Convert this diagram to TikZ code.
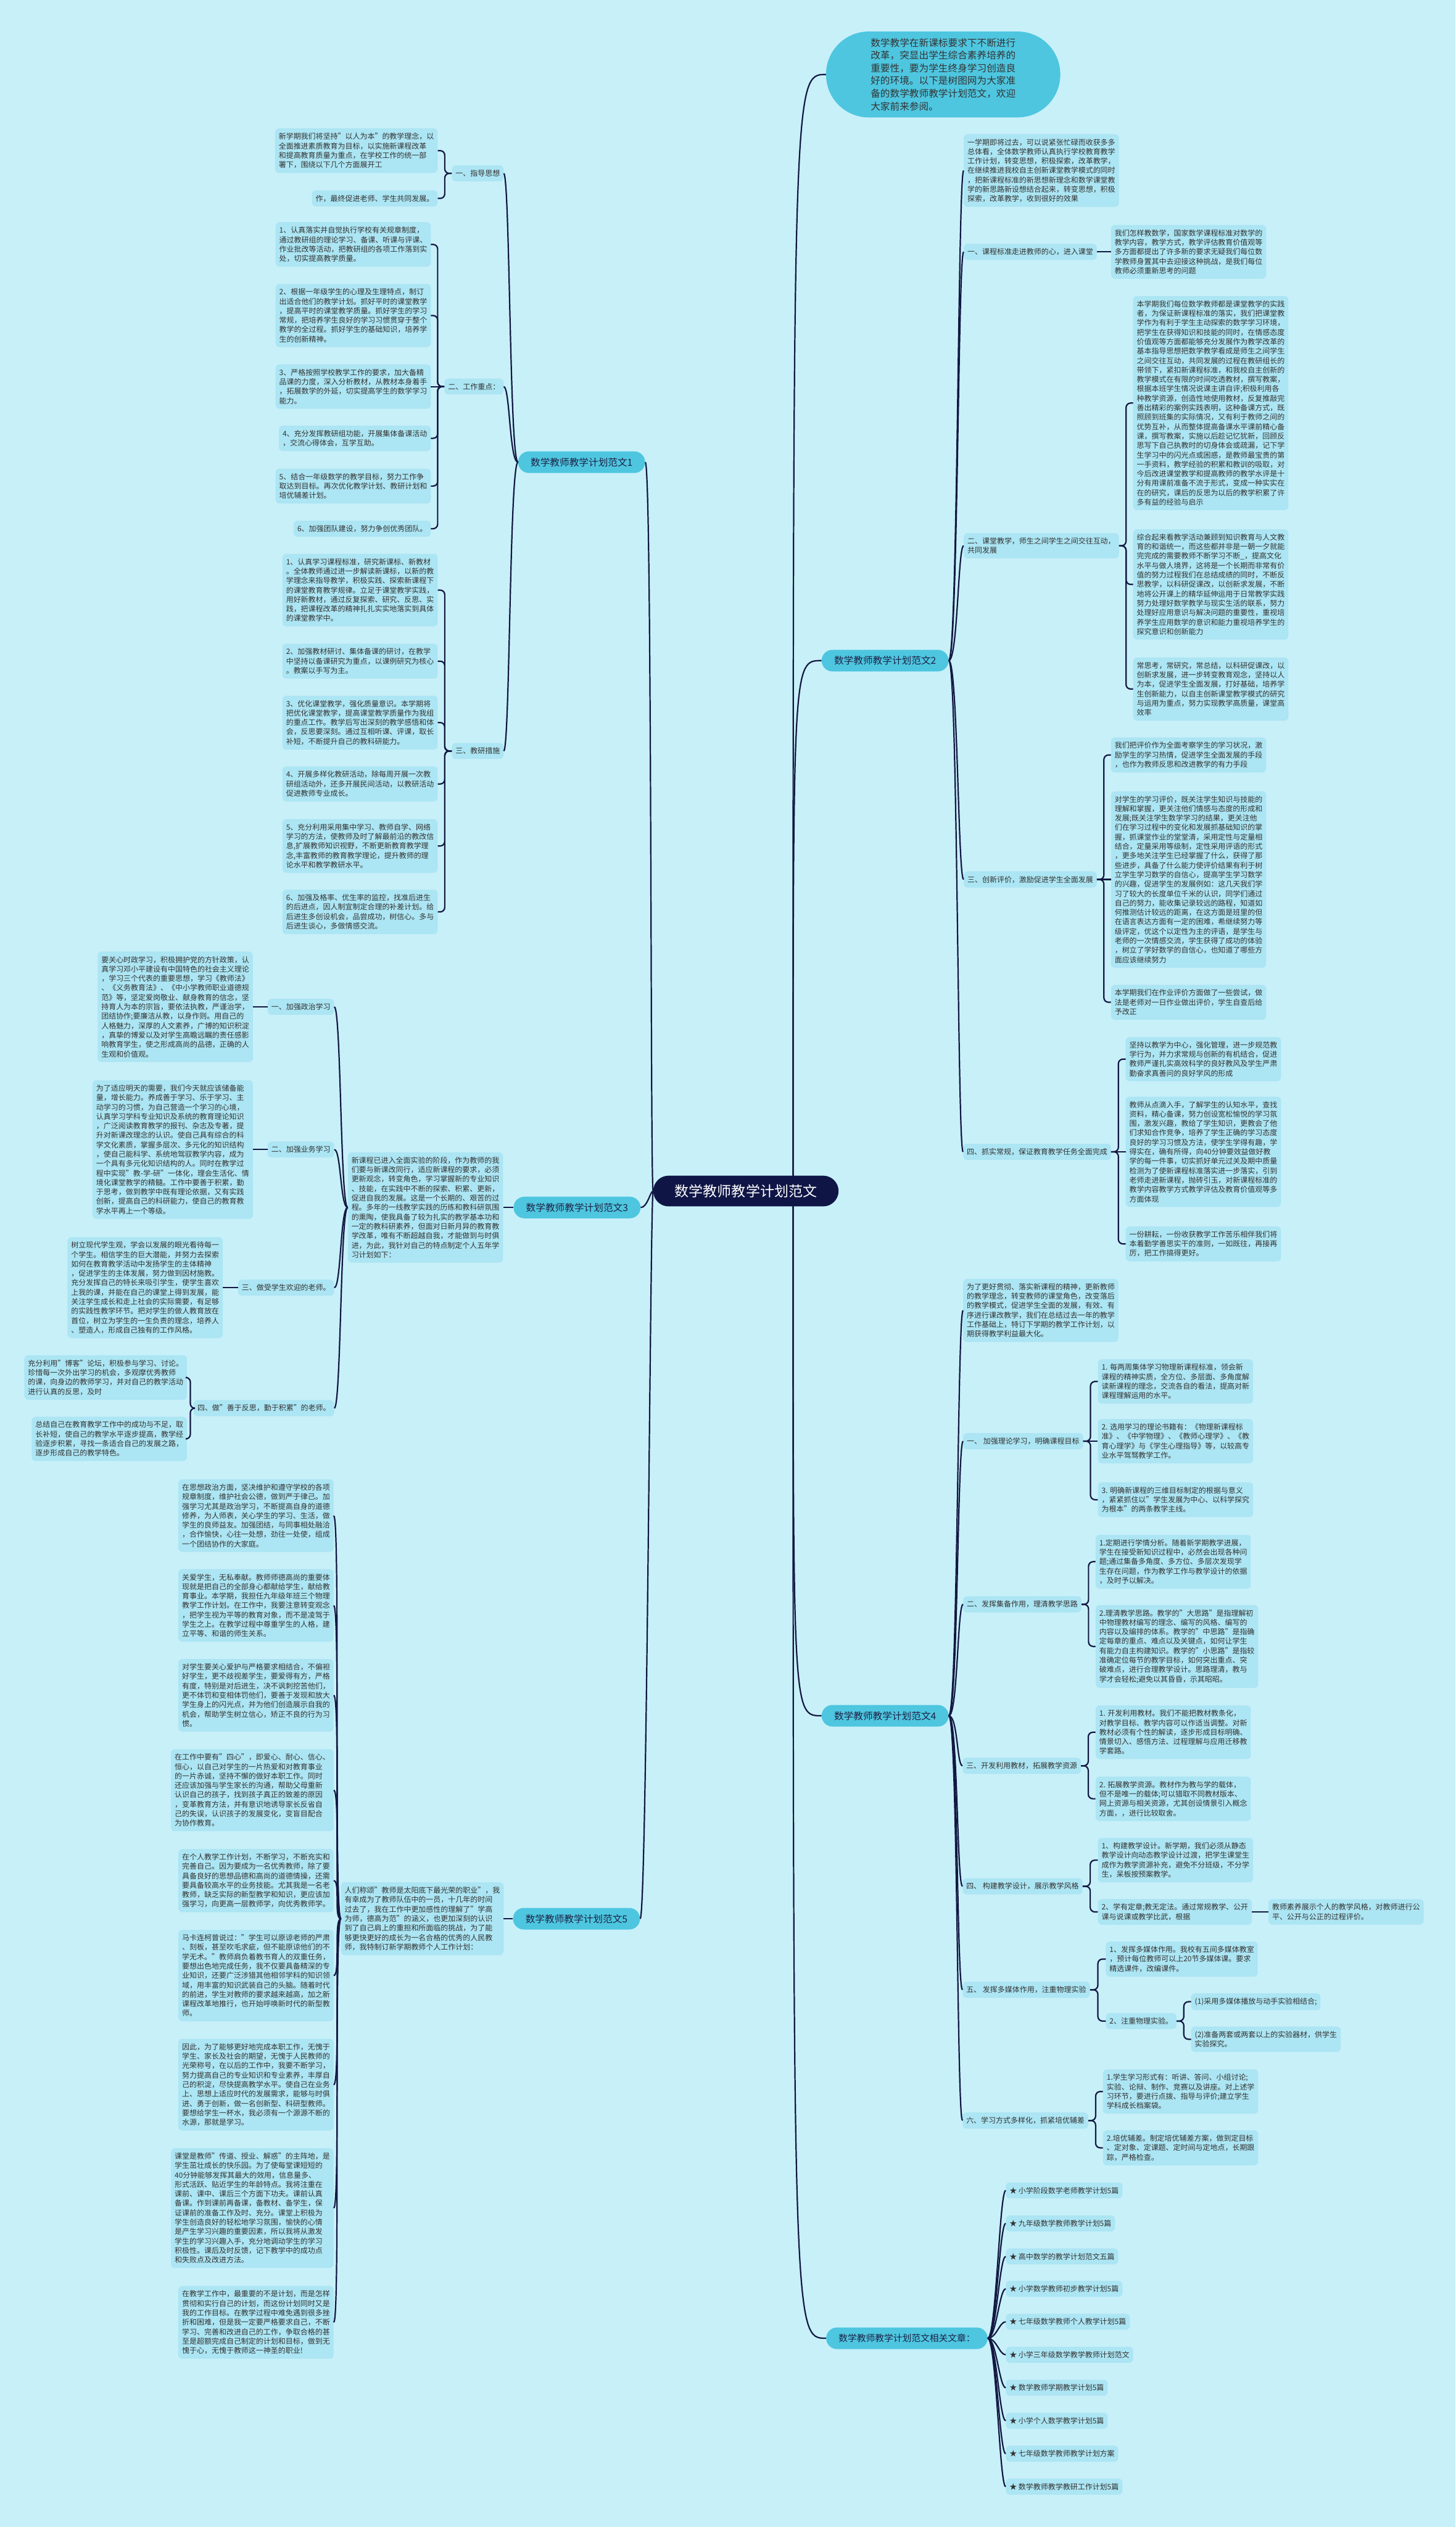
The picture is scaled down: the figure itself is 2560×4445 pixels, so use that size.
\documentclass[tikz,border=0pt]{standalone}
\usepackage{fontspec}
\setmainfont{Noto Sans CJK SC}
\usetikzlibrary{calc}

\definecolor{bgcol}{RGB}{200,240,249}
\definecolor{boxcol}{RGB}{172,229,243}
\definecolor{topcol}{RGB}{78,198,224}
\definecolor{rootcol}{RGB}{15,22,70}
\definecolor{linecol}{RGB}{18,24,66}
\definecolor{txtcol}{RGB}{51,51,51}
\definecolor{plantxt}{RGB}{28,34,70}

% bracket from a branch to one of its boxes
\newcommand{\brL}[2]{\draw[link] (#1.west) -| ($(#1.west)!.5!(#2.east)$) |- (#2.east);}
\newcommand{\brR}[2]{\draw[link] (#1.east) -| ($(#1.east)!.5!(#2.west)$) |- (#2.west);}
% soft curve from a topic to a branch
\newcommand{\cvL}[4]{\draw[link] (#1.west) .. controls +(-#3,0) and +(#4,0) .. (#2.east);}
\newcommand{\cvR}[4]{\draw[link] (#1.east) .. controls +(#3,0) and +(-#4,0) .. (#2.west);}

\begin{document}
\begin{tikzpicture}[x=1pt, y=-1pt,
  link/.style={draw=linecol, line width=2.4pt, rounded corners=8pt},
  leafbox/.style={fill=boxcol, rounded corners=7pt, align=left, inner xsep=6.5pt, inner ysep=8pt,
    font=\fontsize{13}{16.6}\selectfont, text=txtcol},
  subtopic/.style={leafbox},
  plannode/.style={fill=topcol, rounded corners=19pt, minimum height=38pt, inner xsep=22pt,
    font=\fontsize{17}{20}\selectfont, text=plantxt},
  rootnode/.style={fill=rootcol, text=white, rounded corners=27pt, minimum height=54pt,
    minimum width=326pt, font=\fontsize{25}{30}\selectfont},
  bubble/.style={fill=topcol, rounded corners=75pt, minimum width=412pt, minimum height=151pt,
    align=left, font=\fontsize{17}{22.3}\selectfont, text=txtcol}]
\useasboundingbox (0,0) rectangle (2560,4445);
\fill[bgcol] (0,0) rectangle (2560,4445);

\node[rootnode] (root) at (1312,2095) {数学教师教学计划范文};
\node[bubble] (intro) at (1659,131) {数学教学在新课标要求下不断进行\\改革，突显出学生综合素养培养的\\重要性，要为学生终身学习创造良\\好的环境。以下是树图网为大家准\\备的数学教师教学计划范文，欢迎\\大家前来参阅。};

% ---- plan 1
\node[plannode, anchor=east] (p1) at (1135,813) {数学教师教学计划范文1};
\node[subtopic, anchor=east] (p1s1) at (886,305) {一、指导思想};
\node[leafbox, anchor=east] (p1s1a) at (770,265) {新学期我们将坚持"以人为本"的教学理念，以\\全面推进素质教育为目标，以实施新课程改革\\和提高教育质量为重点，在学校工作的统一部\\署下，围绕以下几个方面展开工};
\node[leafbox, anchor=east] (p1s1b) at (770,349) {作，最终促进老师、学生共同发展。};
\node[subtopic, anchor=east] (p1s2) at (886,680) {二、工作重点：};
\node[leafbox, anchor=east] (p1s2a) at (758,430) {1、认真落实并自觉执行学校有关规章制度，\\通过教研组的理论学习、备课、听课与评课、\\作业批改等活动，把教研组的各项工作落到实\\处，切实提高教学质量。};
\node[leafbox, anchor=east] (p1s2b) at (758,555) {2、根据一年级学生的心理及生理特点，制订\\出适合他们的教学计划。抓好平时的课堂教学\\，提高平时的课堂教学质量。抓好学生的学习\\常规，把培养学生良好的学习习惯贯穿于整个\\教学的全过程。抓好学生的基础知识，培养学\\生的创新精神。};
\node[leafbox, anchor=east] (p1s2c) at (758,680) {3、严格按照学校教学工作的要求，加大备精\\品课的力度，深入分析教材，从教材本身着手\\，拓展数学的外延，切实提高学生的数学学习\\能力。};
\node[leafbox, anchor=east] (p1s2d) at (758,771) {4、充分发挥教研组功能，开展集体备课活动\\，交流心得体会，互学互助。};
\node[leafbox, anchor=east] (p1s2e) at (758,855) {5、结合一年级数学的教学目标，努力工作争\\取达到目标。再次优化教学计划、教研计划和\\培优辅差计划。};
\node[leafbox, anchor=east] (p1s2f) at (758,930) {6、加强团队建设，努力争创优秀团队。};
\node[subtopic, anchor=east] (p1s3) at (886,1321) {三、教研措施};
\node[leafbox, anchor=east] (p1s3a) at (770,1038) {1、认真学习课程标准，研究新课标、新教材\\。全体教师通过进一步解读新课标，以新的教\\学理念来指导教学，积极实践、探索新课程下\\的课堂教育教学规律。立足于课堂教学实践，\\用好新教材，通过反复探索、研究、反思、实\\践，把课程改革的精神扎扎实实地落实到具体\\的课堂教学中。};
\node[leafbox, anchor=east] (p1s3b) at (770,1163) {2、加强教材研讨、集体备课的研讨，在教学\\中坚持以备课研究为重点，以课例研究为核心\\。教案以手写为主。};
\node[leafbox, anchor=east] (p1s3c) at (770,1271) {3、优化课堂教学，强化质量意识。本学期将\\把优化课堂教学，提高课堂教学质量作为我组\\的重点工作。教学后写出深刻的教学感悟和体\\会，反思要深刻。通过互相听课、评课，取长\\补短，不断提升自己的教科研能力。};
\node[leafbox, anchor=east] (p1s3d) at (770,1379) {4、开展多样化教研活动，除每周开展一次教\\研组活动外，还多开展民间活动，以教研活动\\促进教师专业成长。};
\node[leafbox, anchor=east] (p1s3e) at (770,1488) {5、充分利用采用集中学习、教师自学、网络\\学习的方法，使教师及时了解最前沿的教改信\\息,扩展教师知识视野，不断更新教育教学理\\念,丰富教师的教育教学理论，提升教师的理\\论水平和教学教研水平。};
\node[leafbox, anchor=east] (p1s3f) at (770,1604) {6、加强及格率、优生率的监控，找准后进生\\的后进点，因人制宜制定合理的补差计划。给\\后进生多创设机会，品尝成功，树信心。多与\\后进生谈心，多做情感交流。};

% ---- plan 2
\node[plannode, anchor=west] (p2) at (1445,1162) {数学教师教学计划范文2};
\node[leafbox, anchor=west] (p2i) at (1695,300) {一学期即将过去，可以说紧张忙碌而收获多多\\总体看，全体数学教师认真执行学校教育教学\\工作计划，转变思想，积极探索，改革教学，\\在继续推进我校自主创新课堂教学模式的同时\\，把新课程标准的新思想新理念和数学课堂教\\学的新思路新设想结合起来，转变思想，积极\\探索，改革教学，收到很好的效果};
\node[subtopic, anchor=west] (p2s1) at (1695,443) {一、课程标准走进教师的心，进入课堂};
\node[leafbox, anchor=west] (p2s1a) at (1954,443) {我们怎样教数学，国家数学课程标准对数学的\\教学内容，教学方式，教学评估教育价值观等\\多方面都提出了许多新的要求无疑我们每位数\\学教师身置其中去迎接这种挑战，是我们每位\\教师必须重新思考的问题};
\node[subtopic, anchor=west] (p2s2) at (1695,960) {二、课堂教学，师生之间学生之间交往互动，\\共同发展};
\node[leafbox, anchor=west] (p2s2a) at (1993,709) {本学期我们每位数学教师都是课堂教学的实践\\者，为保证新课程标准的落实，我们把课堂教\\学作为有利于学生主动探索的数学学习环境，\\把学生在获得知识和技能的同时，在情感态度\\价值观等方面都能够充分发展作为教学改革的\\基本指导思想把数学教学看成是师生之间学生\\之间交往互动，共同发展的过程在教研组长的\\带领下，紧扣新课程标准，和我校自主创新的\\教学模式在有限的时间吃透教材，撰写教案，\\根据本班学生情况说课主讲自评;积极利用各\\种教学资源，创造性地使用教材，反复推敲完\\善出精彩的案例实践表明，这种备课方式，既\\照顾到班集的实际情况，又有利于教师之间的\\优势互补，从而整体提高备课水平课前精心备\\课，撰写教案，实施以后趁记忆犹新，回顾反\\思写下自己执教时的切身体会或疏漏，记下学\\生学习中的闪光点或困惑，是教师最宝贵的第\\一手资料，教学经验的积累和教训的吸取，对\\今后改进课堂教学和提高教师的教学水评是十\\分有用课前准备不流于形式，变成一种实实在\\在的研究，课后的反思为以后的教学积累了许\\多有益的经验与启示};
\node[leafbox, anchor=west] (p2s2b) at (1993,1028) {综合起来看教学活动兼顾到知识教育与人文教\\育的和谐统一，而这些都并非是一朝一夕就能\\完完成的需要教师不断学习不断\_，提高文化\\水平与做人境界，这将是一个长期而非常有价\\值的努力过程我们在总结成绩的同时，不断反\\思教学，以科研促课改，以创新求发展，不断\\地将公开课上的精华延伸运用于日常教学实践\\努力处理好数学教学与现实生活的联系，努力\\处理好应用意识与解决问题的重要性，重视培\\养学生应用数学的意识和能力重视培养学生的\\探究意识和创新能力};
\node[leafbox, anchor=west] (p2s2c) at (1993,1212) {常思考，常研究，常总结，以科研促课改，以\\创新求发展，进一步转变教育观念，坚持以人\\为本，促进学生全面发展，打好基础，培养学\\生创新能力，以自主创新课堂教学模式的研究\\与运用为重点，努力实现教学高质量，课堂高\\效率};
\node[subtopic, anchor=west] (p2s3) at (1695,1547) {三、创新评价，激励促进学生全面发展};
\node[leafbox, anchor=west] (p2s3a) at (1954,1328) {我们把评价作为全面考察学生的学习状况，激\\励学生的学习热情，促进学生全面发展的手段\\，也作为教师反思和改进教学的有力手段};
\node[leafbox, anchor=west] (p2s3b) at (1954,1547) {对学生的学习评价，既关注学生知识与技能的\\理解和掌握，更关注他们情感与态度的形成和\\发展;既关注学生数学学习的结果，更关注他\\们在学习过程中的变化和发展抓基础知识的掌\\握，抓课堂作业的堂堂清，采用定性与定量相\\结合，定量采用等级制，定性采用评语的形式\\，更多地关注学生已经掌握了什么，获得了那\\些进步，具备了什么能力使评价结果有利于树\\立学生学习数学的自信心，提高学生学习数学\\的兴趣，促进学生的发展例如：这几天我们学\\习了较大的长度单位千米的认识，同学们通过\\自己的努力，能收集记录较远的路程，知道如\\何推测估计较远的距离，在这方面是班里的但\\在语言表达方面有一定的困难，希继续努力等\\级评定，优这个以定性为主的评语，是学生与\\老师的一次情感交流，学生获得了成功的体验\\，树立了学好数学的自信心，也知道了哪些方\\面应该继续努力};
\node[leafbox, anchor=west] (p2s3c) at (1954,1763) {本学期我们在作业评价方面做了一些尝试，做\\法是老师对一日作业做出评价，学生自查后给\\予改正};
\node[subtopic, anchor=west] (p2s4) at (1694,2026) {四、抓实常规，保证教育教学任务全面完成};
\node[leafbox, anchor=west] (p2s4a) at (1980,1863) {坚持以教学为中心，强化管理，进一步规范教\\学行为，并力求常规与创新的有机结合，促进\\教师严谨扎实高效科学的良好教风及学生严肃\\勤奋求真善问的良好学风的形成};
\node[leafbox, anchor=west] (p2s4b) at (1980,2026) {教师从点滴入手，了解学生的认知水平，查找\\资料，精心备课，努力创设宽松愉悦的学习氛\\围，激发兴趣，教给了学生知识，更教会了他\\们求知合作竞争，培养了学生正确的学习态度\\良好的学习习惯及方法，使学生学得有趣，学\\得实在，确有所得，向40分钟要效益做好教\\学的每一件事，切实抓好单元过关及期中质量\\检测为了使新课程标准落实进一步落实，引到\\老师走进新课程，抛砖引玉，对新课程标准的\\教学内容教学方式教学评估及教育价值观等多\\方面体现};
\node[leafbox, anchor=west] (p2s4c) at (1980,2188) {一份耕耘，一份收获教学工作苦乐相伴我们将\\本着勤学善思实干的准则，一如既往，再接再\\厉，把工作搞得更好。};

% ---- plan 3
\node[plannode, anchor=east] (p3) at (1127,2124) {数学教师教学计划范文3};
\node[leafbox, anchor=east] (p3i) at (885,2124) {新课程已进入全面实验的阶段，作为教师的我\\们要与新课改同行，适应新课程的要求，必须\\更新观念，转变角色，学习掌握新的专业知识\\、技能，在实践中不断的探索、积累、更新，\\促进自我的发展。这是一个长期的、艰苦的过\\程。多年的一线教学实践的历练和教科研氛围\\的熏陶，使我具备了较为扎实的教学基本功和\\一定的教科研素养，但面对日新月异的教育教\\学改革，唯有不断超越自我，才能做到与时俱\\进，为此，我针对自己的特点制定个人五年学\\习计划如下：};
\node[subtopic, anchor=east] (p3s1) at (588,1771) {一、加强政治学习};
\node[leafbox, anchor=east] (p3s1a) at (445,1771) {要关心时政学习，积极拥护党的方针政策，认\\真学习邓小平建设有中国特色的社会主义理论\\，学习三个代表的重要思想，学习《教师法》\\、《义务教育法》、《中小学教师职业道德规\\范》等，坚定爱岗敬业、献身教育的信念，坚\\持育人为本的宗旨，要依法执教，严谨治学，\\团结协作;要廉洁从教，以身作则。用自己的\\人格魅力，深厚的人文素养，广博的知识积淀\\，真挚的博爱以及对学生高瞻远瞩的责任感影\\响教育学生，使之形成高尚的品德，正确的人\\生观和价值观。};
\node[subtopic, anchor=east] (p3s2) at (588,2022) {二、加强业务学习};
\node[leafbox, anchor=east] (p3s2a) at (445,2022) {为了适应明天的需要，我们今天就应该储备能\\量，增长能力。养成善于学习、乐于学习、主\\动学习的习惯，为自己营造一个学习的心境，\\认真学习学科专业知识及系统的教育理论知识\\，广泛阅读教育教学的报刊、杂志及专著，提\\升对新课改理念的认识。使自己具有综合的科\\学文化素质，掌握多层次、多元化的知识结构\\，使自己能科学、系统地驾驭教学内容，成为\\一个具有多元化知识结构的人。同时在教学过\\程中实现"教-学-研"一体化，理会生活化、情\\境化课堂教学的精髓。工作中要善于积累，勤\\于思考，做到教学中既有理论依据，又有实践\\创新，提高自己的科研能力，使自己的教育教\\学水平再上一个等级。};
\node[subtopic, anchor=east] (p3s3) at (588,2265) {三、做受学生欢迎的老师。};
\node[leafbox, anchor=east] (p3s3a) at (392,2265) {树立现代学生观，学会以发展的眼光看待每一\\个学生。相信学生的巨大潜能，并努力去探索\\如何在教育教学活动中发扬学生的主体精神\\，促进学生的主体发展，努力做到因材施教。\\充分发挥自己的特长来吸引学生，使学生喜欢\\上我的课，并能在自己的课堂上得到发展，能\\关注学生成长和走上社会的实际需要，有足够\\的实践性教学环节。把对学生的做人教育放在\\首位，树立为学生的一生负责的理念，培养人\\、塑造人，形成自己独有的工作风格。};
\node[subtopic, anchor=east] (p3s4) at (588,2477) {四、做"善于反思，勤于积累"的老师。};
\node[leafbox, anchor=east] (p3s4a) at (329,2423) {充分利用"博客"论坛，积极参与学习、讨论。\\珍惜每一次外出学习的机会，多观摩优秀教师\\的课，向身边的教师学习，并对自己的教学活动\\进行认真的反思，及时};
\node[leafbox, anchor=east] (p3s4b) at (329,2531) {总结自己在教育教学工作中的成功与不足，取\\长补短，使自己的教学水平逐步提高，教学经\\验逐步积累，寻找一条适合自己的发展之路，\\逐步形成自己的教学特色。};

% ---- plan 4
\node[plannode, anchor=west] (p4) at (1445,3018) {数学教师教学计划范文4};
\node[leafbox, anchor=west] (p4i) at (1694,2305) {为了更好贯彻、落实新课程的精神，更新教师\\的教学理念，转变教师的课堂角色，改变落后\\的教学模式，促进学生全面的发展，有效、有\\序进行课改教学，我们在总结过去一年的教学\\工作基础上，特订下学期的教学工作计划，以\\期获得教学利益最大化。};
\node[subtopic, anchor=west] (p4s1) at (1694,2535) {一、 加强理论学习，明确课程目标};
\node[leafbox, anchor=west] (p4s1a) at (1931,2430) {1. 每两周集体学习物理新课程标准，领会新\\课程的精神实质，全方位、多层面、多角度解\\读新课程的理念，交流各自的看法，提高对新\\课程理解运用的水平。};
\node[leafbox, anchor=west] (p4s1b) at (1931,2535) {2. 选用学习的理论书籍有：《物理新课程标\\准》、《中学物理》、《教师心理学》、《教\\育心理学》与《学生心理指导》等，以较高专\\业水平驾驽教学工作。};
\node[leafbox, anchor=west] (p4s1c) at (1931,2638) {3. 明确新课程的三维目标制定的根据与意义\\，紧紧抓住以"学生发展为中心、以科学探究\\为根本"的两条教学主线。};
\node[subtopic, anchor=west] (p4s2) at (1694,2822) {二、发挥集备作用，理清教学思路};
\node[leafbox, anchor=west] (p4s2a) at (1927,2747) {1.定期进行学情分析。随着新学期教学进展，\\学生在接受新知识过程中，必然会出现各种问\\题;通过集备多角度、多方位、多层次发现学\\生存在问题，作为教学工作与教学设计的依据\\，及时予以解决。};
\node[leafbox, anchor=west] (p4s2b) at (1927,2896) {2.理清教学思路。教学的"大思路"是指理解初\\中物理教材编写的理念、编写的风格、编写的\\内容以及编排的体系。教学的"中思路"是指确\\定每章的重点、难点以及关键点，如何让学生\\有能力自主构建知识。教学的"小思路"是指较\\准确定位每节的教学目标，如何突出重点、突\\破难点，进行合理教学设计。思路理清，教与\\学才会轻松;避免以其昏昏，示其昭昭。};
\node[subtopic, anchor=west] (p4s3) at (1693,3106) {三、开发利用教材，拓展教学资源};
\node[leafbox, anchor=west] (p4s3a) at (1927,3047) {1. 开发利用教材。我们不能把教材教条化，\\对教学目标、教学内容可以作适当调整。对新\\教材必须有个性的解读，逐步形成目标明确、\\情景切入、感悟方法、过程理解与应用迁移教\\学套路。};
\node[leafbox, anchor=west] (p4s3b) at (1927,3164) {2. 拓展教学资源。教材作为教与学的载体，\\但不是唯一的载体;可以猎取不同教材版本、\\网上资源与相关资源，尤其创设情景引入概念\\方面，，进行比较取舍。};
\node[subtopic, anchor=west] (p4s4) at (1693,3318) {四、 构建教学设计，展示教学风格};
\node[leafbox, anchor=west] (p4s4a) at (1931,3272) {1、构建教学设计。新学期，我们必须从静态\\教学设计向动态教学设计过渡，把学生课堂生\\成作为教学资源补充，避免不分班级，不分学\\生，呆板按预案教学。};
\node[leafbox, anchor=west] (p4s4b) at (1931,3363) {2、学有定章;教无定法。通过常规教学、公开\\课与说课或教学比武，根据};
\node[leafbox, anchor=west] (p4s4c) at (2231,3363) {教师素养展示个人的教学风格，对教师进行公\\平、公开与公正的过程评价。};
\node[subtopic, anchor=west] (p4s5) at (1693,3500) {五、 发挥多媒体作用，注重物理实验};
\node[leafbox, anchor=west] (p4s5a) at (1945,3446) {1、发挥多媒体作用。我校有五间多媒体教室\\，预计每位教师可以上20节多媒体课。要求\\精选课件，改编课件。};
\node[subtopic, anchor=west] (p4s5b) at (1945,3555) {2、注重物理实验。};
\node[leafbox, anchor=west] (p4s5c) at (2095,3521) {(1)采用多媒体播放与动手实验相结合;};
\node[leafbox, anchor=west] (p4s5d) at (2095,3587) {(2)准备两套或两套以上的实验器材，供学生\\实验探究。};
\node[subtopic, anchor=west] (p4s6) at (1693,3730) {六、学习方式多样化，抓紧培优辅差};
\node[leafbox, anchor=west] (p4s6a) at (1940,3679) {1.学生学习形式有：听讲、答问、小组讨论;\\实验、论辩、制作、竞赛以及讲座。对上述学\\习环节，要进行点拨、指导与评价;建立学生\\学科成长档案袋。};
\node[leafbox, anchor=west] (p4s6b) at (1940,3778) {2.培优辅差。制定培优辅差方案，做到定目标\\、定对象、定课题、定时间与定地点，长期跟\\踪，严格检查。};

% ---- plan 5
\node[plannode, anchor=east] (p5) at (1126,3375) {数学教师教学计划范文5};
\node[leafbox, anchor=east] (p5i) at (886,3375) {人们称颂"教师是太阳底下最光荣的职业"，我\\有幸成为了教师队伍中的一员，十几年的时间\\过去了，我在工作中更加感性的理解了"学高\\为师，德高为范"的涵义，也更加深刻的认识\\到了自己肩上的重担和所面临的挑战，为了能\\够更快更好的成长为一名合格的优秀的人民教\\师，我特制订新学期教师个人工作计划：};
\node[leafbox, anchor=east] (p5a) at (587,2666) {在思想政治方面，坚决维护和遵守学校的各项\\规章制度，维护社会公德，做到严于律己。加\\强学习尤其是政治学习，不断提高自身的道德\\修养，为人师表，关心学生的学习、生活，做\\学生的良师益友。加强团结，与同事相处融洽\\，合作愉快，心往一处想，劲往一处使，组成\\一个团结协作的大家庭。};
\node[leafbox, anchor=east] (p5b) at (587,2824) {关爱学生，无私奉献。教师师德高尚的重要体\\现就是把自己的全部身心都献给学生，献给教\\育事业。本学期，我担任九年级年班三个物理\\教学工作计划。在工作中，我要注意转变观念\\，把学生视为平等的教育对象，而不是凌驾于\\学生之上。在教学过程中尊重学生的人格，建\\立平等、和谐的师生关系。};
\node[leafbox, anchor=east] (p5c) at (587,2982) {对学生要关心爱护与严格要求相结合，不偏袒\\好学生，更不歧视差学生，要爱得有方，严格\\有度，特别是对后进生，决不讽刺挖苦他们，\\更不体罚和变相体罚他们，要善于发现和放大\\学生身上的闪光点，并为他们创造展示自我的\\机会，帮助学生树立信心，矫正不良的行为习\\惯。};
\node[leafbox, anchor=east] (p5d) at (587,3149) {在工作中要有"四心"，即爱心、耐心、信心、\\恒心，以自己对学生的一片热爱和对教育事业\\的一片赤诚，坚持不懈的做好本职工作。同时\\还应该加强与学生家长的沟通，帮助父母重新\\认识自己的孩子，找到孩子真正的致差的原因\\，变革教育方法，并有意识地诱导家长反省自\\己的失误，认识孩子的发展变化，变盲目配合\\为协作教育。};
\node[leafbox, anchor=east] (p5e) at (587,3308) {在个人教学工作计划，不断学习，不断充实和\\完善自己。因为要成为一名优秀教师，除了要\\具备良好的思想品德和高尚的道德情操，还需\\要具备较高水平的业务技能。尤其我是一名老\\教师，缺乏实际的新型教学和知识，更应该加\\强学习，向更高一层教师学，向优秀教师学。};
\node[leafbox, anchor=east] (p5f) at (587,3475) {马卡连柯曾说过："学生可以原谅老师的严肃\\、刻板，甚至吹毛求疵，但不能原谅他们的不\\学无术。"教师肩负着教书育人的双重任务，\\要想出色地完成任务，我不仅要具备精深的专\\业知识，还要广泛涉猎其他相邻学科的知识领\\域，用丰富的知识武装自己的头脑。随着时代\\的前进，学生对教师的要求越来越高，加之新\\课程改革地推行，也开始呼唤新时代的新型教\\师。};
\node[leafbox, anchor=east] (p5g) at (587,3667) {因此，为了能够更好地完成本职工作，无愧于\\学生、家长及社会的期望，无愧于人民教师的\\光荣称号，在以后的工作中，我要不断学习，\\努力提高自己的专业知识和专业素养，丰厚自\\己的积淀，尽快提高教学水平。使自己在业务\\上、思想上适应时代的发展需求，能够与时俱\\进、勇于创新，做一名创新型、科研型教师。\\要想给学生一杯水，我必须有一个源源不断的\\水源，那就是学习。};
\node[leafbox, anchor=east] (p5h) at (587,3884) {课堂是教师"传道、授业、解惑"的主阵地，是\\学生茁壮成长的快乐园。为了使每堂课短短的\\40分钟能够发挥其最大的效用，信息量多、\\形式活跃、贴近学生的年龄特点。我将注重在\\课前、课中、课后三个方面下功夫。课前认真\\备课。作到课前再备课，备教材、备学生，保\\证课前的准备工作及时、充分。课堂上积极为\\学生创造良好的轻松地学习氛围，愉快的心情\\是产生学习兴趣的重要因素，所以我将从激发\\学生的学习兴趣入手，充分地调动学生的学习\\积极性。课后及时反馈，记下教学中的成功点\\和失败点及改进方法。};
\node[leafbox, anchor=east] (p5k) at (587,4085) {在教学工作中，最重要的不是计划，而是怎样\\贯彻和实行自己的计划，而这份计划同时又是\\我的工作目标。在教学过程中难免遇到很多挫\\折和困难，但是我一定要严格要求自己，不断\\学习、完善和改进自己的工作，争取合格的甚\\至是超额完成自己制定的计划和目标，做到无\\愧于心，无愧于教师这一神圣的职业!};

% ---- related articles
\node[plannode, anchor=west, font=\fontsize{16}{19}\selectfont] (rel) at (1453,4113) {数学教师教学计划范文相关文章：};
\node[leafbox, anchor=west] (r1) at (1769,3853) {★ 小学阶段数学老师教学计划5篇};
\node[leafbox, anchor=west] (r2) at (1769,3911) {★ 九年级数学教师教学计划5篇};
\node[leafbox, anchor=west] (r3) at (1769,3969) {★ 高中数学的教学计划范文五篇};
\node[leafbox, anchor=west] (r4) at (1769,4026) {★ 小学数学教师初步教学计划5篇};
\node[leafbox, anchor=west] (r5) at (1769,4084) {★ 七年级数学教师个人教学计划5篇};
\node[leafbox, anchor=west] (r6) at (1769,4142) {★ 小学三年级数学教学教师计划范文};
\node[leafbox, anchor=west] (r7) at (1769,4200) {★ 数学教师学期教学计划5篇};
\node[leafbox, anchor=west] (r8) at (1769,4258) {★ 小学个人数学教学计划5篇};
\node[leafbox, anchor=west] (r9) at (1769,4316) {★ 七年级数学教师教学计划方案};
\node[leafbox, anchor=west] (r10) at (1769,4374) {★ 数学教师教学教研工作计划5篇};

% ---- connectors from the root
\coordinate (rtop) at (1395,2069);
\coordinate (rbot) at (1395,2121);
\draw[link] (rtop) .. controls (rtop |- intro.west) .. (intro.west);
\draw[link] (rtop) .. controls (rtop |- p2.west) .. (p2.west);
\draw[link] (rbot) .. controls (rbot |- p4.west) .. (p4.west);
\draw[link] (rbot) .. controls (rbot |- rel.west) .. (rel.west);
\cvL{root}{p1}{5}{12}
\cvL{root}{p3}{5}{12}
\cvL{root}{p5}{5}{12}

% plan 1
\cvL{p1}{p1s1}{15}{11}
\cvL{p1}{p1s2}{15}{11}
\cvL{p1}{p1s3}{15}{11}
\brL{p1s1}{p1s1a}
\brL{p1s1}{p1s1b}
\foreach \k in {a,b,d,e,f} {\brL{p1s2}{p1s2\k}}
\draw[link] (p1s2.west) -- (p1s2c.east);
\foreach \k in {a,b,c,d,e,f} {\brL{p1s3}{p1s3\k}}

% plan 2
\foreach \k in {p2i,p2s1,p2s2,p2s3,p2s4} {\cvR{p2}{\k}{16}{10}}
\draw[link] (p2s1.east) -- (p2s1a.west);
\foreach \k in {a,b,c} {\brR{p2s2}{p2s2\k}}
\brR{p2s3}{p2s3a}
\draw[link] (p2s3.east) -- (p2s3b.west);
\brR{p2s3}{p2s3c}
\brR{p2s4}{p2s4a}
\draw[link] (p2s4.east) -- (p2s4b.west);
\brR{p2s4}{p2s4c}

% plan 3
\draw[link] (p3.west) -- (p3i.east);
\foreach \k in {p3s1,p3s2,p3s3,p3s4} {\cvL{p3i}{\k}{13}{12}}
\draw[link] (p3s1.west) -- (p3s1a.east);
\draw[link] (p3s2.west) -- (p3s2a.east);
\draw[link] (p3s3.west) -- (p3s3a.east);
\brL{p3s4}{p3s4a}
\brL{p3s4}{p3s4b}

% plan 4
\foreach \k in {p4i,p4s1,p4s2,p4s3,p4s4,p4s5,p4s6} {\cvR{p4}{\k}{16}{10}}
\brR{p4s1}{p4s1a}
\draw[link] (p4s1.east) -- (p4s1b.west);
\brR{p4s1}{p4s1c}
\foreach \k in {a,b} {\brR{p4s2}{p4s2\k}}
\foreach \k in {a,b} {\brR{p4s3}{p4s3\k}}
\foreach \k in {a,b} {\brR{p4s4}{p4s4\k}}
\draw[link] (p4s4b.east) -- (p4s4c.west);
\foreach \k in {a,b} {\brR{p4s5}{p4s5\k}}
\foreach \k in {c,d} {\brR{p4s5b}{p4s5\k}}
\foreach \k in {a,b} {\brR{p4s6}{p4s6\k}}

% plan 5
\draw[link] (p5.west) -- (p5i.east);
\foreach \k in {a,b,c,d,e,f,g,h,k} {\cvL{p5i}{p5\k}{13}{12}}

% related
\foreach \k in {1,...,10} {\cvR{rel}{r\k}{15}{11}}
\end{tikzpicture}
\end{document}
